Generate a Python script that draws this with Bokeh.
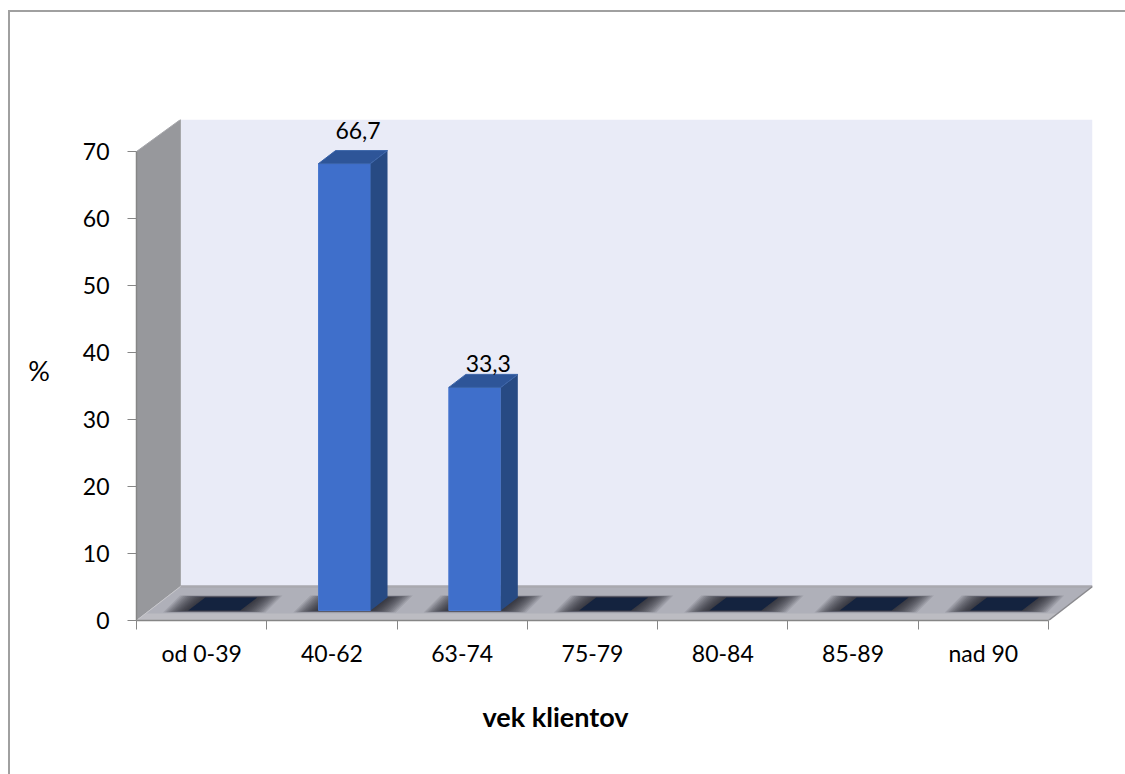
from bokeh.plotting import figure
from bokeh.models import FixedTicker, Range1d, Title
from bokeh.core.properties import value
from bokeh.embed import file_html
from bokeh.resources import INLINE

categories = ["od 0-39", "40-62", "63-74", "75-79", "80-84", "85-89", "nad 90"]
percent = [0, 66.7, 33.3, 0, 0, 0, 0]
percent_labels = ["", "66,7", "33,3", "", "", "", ""]
y_ticks = [0, 10, 20, 30, 40, 50, 60, 70]

FONT = "Lato"
TEXT = "#000000"
AXIS = "#868686"
EDGE = "linear-gradient(#a0a0a0,#a0a0a0)"
PX_X = 130.3  # pixels per category
PX_Y = 6.7    # pixels per percent
sx = lambda px: px / PX_X
sy = lambda px: px / PX_Y

depth_x, depth_y = sx(44), sy(34)
y_top = 70 + sy(32)
n = len(categories)

p = figure(width=1125, height=774, output_backend="svg", toolbar_location=None,
           x_range=Range1d(0, n + depth_x), y_range=Range1d(0, y_top),
           min_border_left=136, min_border_right=33, min_border_top=119, min_border_bottom=154,
           background_fill_color=None, border_fill_color=None, outline_line_color=None)
p.grid.visible = False
p.styles = {"background-color": "#ffffff",
            "background-image": EDGE + "," + EDGE,
            "background-size": "2px 100%, 100% 2px",
            "background-position": "8px 10px, 8px 10px",
            "background-repeat": "no-repeat"}

# walls and floor
p.patch([depth_x, n + depth_x, n + depth_x, depth_x], [depth_y, depth_y, y_top, y_top],
        fill_color="#e9ebf7", line_color=None)
p.patch([0, depth_x, depth_x, 0], [0, depth_y, y_top, 70],
        fill_color="#97989c", line_color="#a6a7ab", line_width=1)
p.patch([0, n, n + depth_x, depth_x], [0, 0, depth_y, depth_y],
        fill_color="#afb0b9", line_color=None)
p.patch([0, n, n + sx(9), sx(9)], [0, 0, sy(7), sy(7)],
        fill_color="#bcbcc2", line_color=None)
p.line([depth_x, n + depth_x], [depth_y, depth_y], line_color="#a9a9af", line_width=2.5)
p.line([n, n + depth_x], [0, depth_y], line_color="#8a8a8e", line_width=1.5)
p.line([0, depth_x], [0, depth_y], line_color="#c8c8cc", line_width=1)

# bars
bar_w = sx(52)
off_x, off_y = sx(12.6), sy(10)
bar_dx, bar_dy = sx(17), sy(13)
for i, v in enumerate(percent):
    left = i + 0.5 + off_x - bar_w / 2
    right = left + bar_w
    base = off_y
    # soft shadow on the floor
    for k in range(14, 0, -1):
        ex, ey = sx(k * 1.8), sy(k * 0.14)
        p.patch([left - ex, right + ex, right + bar_dx + ex, left + bar_dx - ex],
                [base - ey, base - ey, base + bar_dy + ey, base + bar_dy + ey],
                fill_color="#202024", fill_alpha=0.1, line_color=None)
    top = base + v
    if v > 0:
        p.vbar(x=[left + bar_w / 2], width=bar_w, bottom=[base], top=[top],
               fill_color="#3f6fcb", line_color="#4a78cf", line_width=1)
        p.patch([right, right + bar_dx, right + bar_dx, right],
                [base, base + bar_dy, top + bar_dy, top],
                fill_color="#274a83", line_color=None)
        p.patch([left, right, right + bar_dx, left + bar_dx],
                [top, top, top + bar_dy, top + bar_dy],
                fill_color="#2e5598", line_color="#3a63a8", line_width=1)
        p.text([left + bar_w / 2 + sx(13.5)], [top + sy(33 - (i - 1) * 9)], text=[percent_labels[i]],
               text_font=value(FONT), text_font_size="23px", text_color=TEXT,
               text_align="center", text_baseline="middle")
    else:
        p.patch([left, right, right + bar_dx, left + bar_dx],
                [base, base, base + bar_dy, base + bar_dy],
                fill_color="#14233f", line_color=None)

# axes
ya = p.yaxis[0]
ya.ticker = FixedTicker(ticks=y_ticks)
ya.bounds = (0, 70)
ya.axis_line_color = AXIS
ya.axis_line_width = 1.5
ya.major_tick_line_color = AXIS
ya.major_tick_line_width = 1
ya.major_tick_out = 9
ya.major_tick_in = 0
ya.minor_tick_out = 0
ya.minor_tick_in = 0
ya.major_label_text_font = FONT
ya.major_label_text_font_size = "23px"
ya.major_label_text_color = TEXT
ya.major_label_standoff = 18
ya.axis_label = "%"
ya.axis_label_orientation = "horizontal"
ya.axis_label_text_font = FONT
ya.axis_label_text_font_size = "27px"
ya.axis_label_text_font_style = "normal"
ya.axis_label_text_color = TEXT
ya.axis_label_standoff = 30

xa = p.xaxis[0]
centres = [i + 0.5 for i in range(n)]
xa.ticker = FixedTicker(ticks=centres, minor_ticks=list(range(n + 1)))
xa.major_label_overrides = {c: name for c, name in zip(centres, categories)}
xa.bounds = (0, n)
xa.axis_line_color = AXIS
xa.axis_line_width = 1.5
xa.major_tick_out = 0
xa.major_tick_in = 0
xa.minor_tick_out = 9
xa.minor_tick_in = 0
xa.minor_tick_line_color = AXIS
xa.major_label_text_font = FONT
xa.major_label_text_font_size = "23px"
xa.major_label_text_color = TEXT
xa.major_label_standoff = 9

p.add_layout(Title(text="vek klientov", align="left", offset=346, standoff=56,
                   text_font=FONT, text_font_size="27px", text_font_style="bold",
                   text_color=TEXT), "below")

open("out.html", "w").write(file_html(p, INLINE))
